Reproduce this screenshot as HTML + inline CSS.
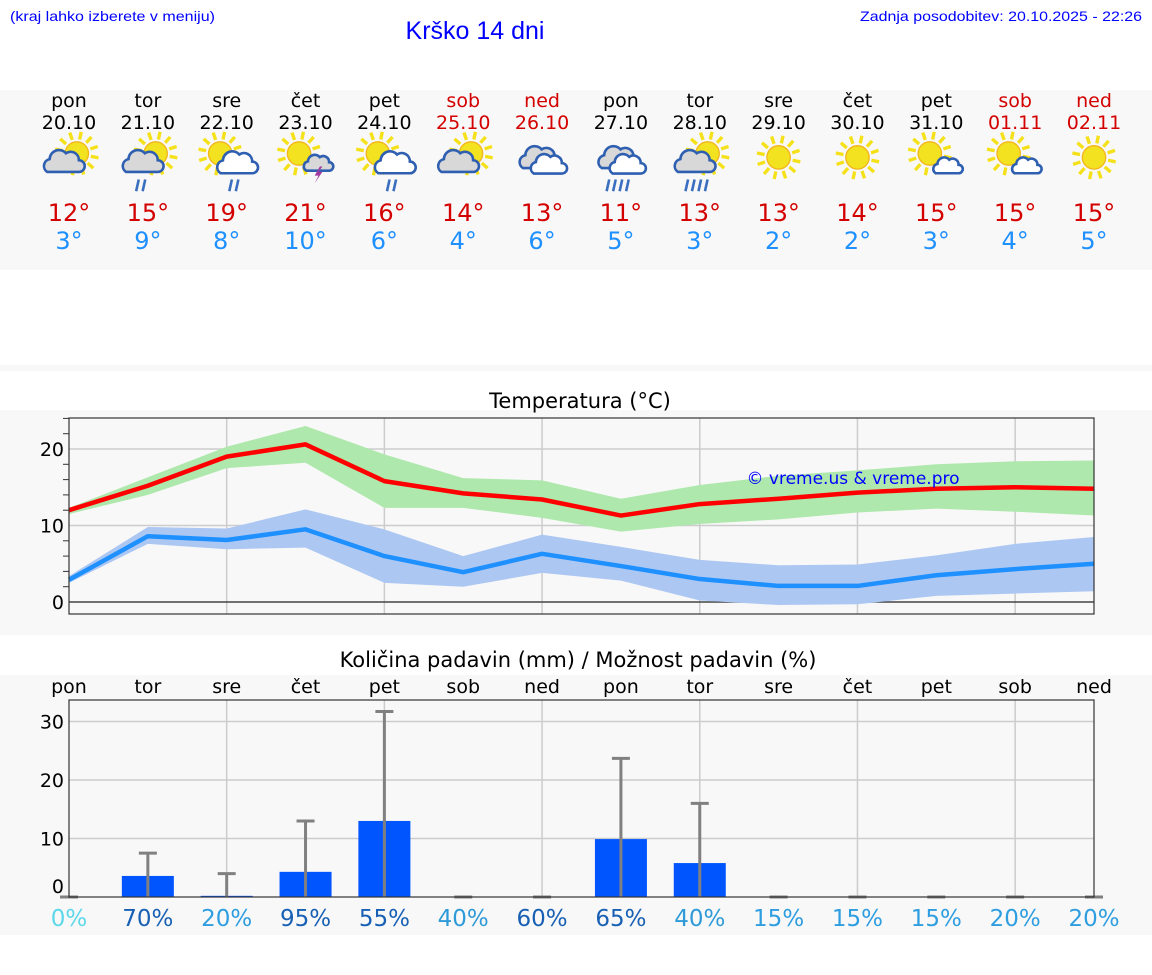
<!DOCTYPE html>
<html><head><meta charset="utf-8"><style>
body{margin:0;background:#fff;width:1152px;height:975px;overflow:hidden}
svg{display:block}
text{font-family:"DejaVu Sans","Liberation Sans",sans-serif}
</style></head><body>
<svg id="s" width="1152" height="975" xmlns="http://www.w3.org/2000/svg">
<rect x="0" y="90" width="1152" height="180" fill="#f8f8f8"/>
<rect x="0" y="365" width="1152" height="6" fill="#f8f8f8"/>
<rect x="0" y="410" width="1152" height="225" fill="#f8f8f8"/>
<rect x="0" y="675" width="1152" height="260" fill="#f8f8f8"/>
<text x="10" y="21" font-size="14" fill="#0000ff" style="font-family:'Liberation Sans',sans-serif" textLength="205" lengthAdjust="spacingAndGlyphs">(kraj lahko izberete v meniju)</text>
<text x="1142" y="21" font-size="14" fill="#0000ff" text-anchor="end" style="font-family:'Liberation Sans',sans-serif" textLength="282" lengthAdjust="spacingAndGlyphs">Zadnja posodobitev: 20.10.2025 - 22:26</text>
<text x="475" y="39" font-size="25" fill="#0000ff" text-anchor="middle" style="font-family:'Liberation Sans',sans-serif">Krško 14 dni</text>
<text x="580" y="408" font-size="21" fill="#000" text-anchor="middle">Temperatura (°C)</text>
<text x="578" y="667" font-size="21" fill="#000" text-anchor="middle">Količina padavin (mm) / Možnost padavin (%)</text>
<g id="topg"></g><g id="temp"></g><g id="prec"></g>
</svg>
<script>
const days=["pon","tor","sre","čet","pet","sob","ned","pon","tor","sre","čet","pet","sob","ned"];
const dates=["20.10","21.10","22.10","23.10","24.10","25.10","26.10","27.10","28.10","29.10","30.10","31.10","01.11","02.11"];
const maxT=[12,15,19,21,16,14,13,11,13,13,14,15,15,15];
const minT=[3,9,8,10,6,4,6,5,3,2,2,3,4,5];
const icons=["sc","scr","swr","sst","swr","sc","cc","ccr","scrr","s","s","sw","sw","s"];
const maxLine=[12,15.2,19,20.6,15.8,14.2,13.4,11.3,12.8,13.5,14.3,14.8,15,14.8];
const maxHi=[12.3,16.3,20.3,23,19.3,16.2,15.9,13.5,15.3,16.5,17.2,18,18.4,18.5];
const maxLo=[11.5,14,17.5,18.2,12.3,12.3,11,9.2,10.2,10.8,11.7,12.2,11.8,11.3];
const minLine=[2.9,8.6,8.1,9.5,6,3.9,6.3,4.7,3,2.1,2.1,3.5,4.3,5];
const minHi=[3.4,9.8,9.6,12.1,9.5,6,8.8,7.2,5.5,4.8,4.9,6.1,7.6,8.5];
const minLo=[2.5,7.6,6.9,7.1,2.5,2,3.8,2.8,0.2,-0.4,-0.3,0.8,1.1,1.4];
const tTicks=[0,10,20];
const precip=[0,3.6,0.2,4.3,13,0,0,9.9,5.8,0,0,0,0,0];
const precipMax=[0,7.5,4,13,31.7,0,0,23.7,16,0,0,0,0,0];
const chance=[0,70,20,95,55,40,60,65,40,15,15,15,20,20];
const pTicks=[0,10,20,30];
const NS="http://www.w3.org/2000/svg";
function mk(p,t,a){const e=document.createElementNS(NS,t);for(const k in a)e.setAttribute(k,a[k]);p.appendChild(e);return e;}
const X0=69,X1=1094;
const xd=i=>X0+i*(X1-X0)/13;
const yT=v=>602-v*7.65;
const yP=v=>897-v*5.85;
const topG=document.getElementById('topg'),tg=document.getElementById('temp'),pg=document.getElementById('prec');
function sun(g,cx,cy,r){const rays=mk(g,'g',{stroke:'#f5e11a','stroke-width':2.6});
 for(let k=0;k<12;k++){const a=k*Math.PI/6+0.2;mk(rays,'line',{x1:cx+Math.cos(a)*(r+2),y1:cy+Math.sin(a)*(r+2),x2:cx+Math.cos(a)*(r+8),y2:cy+Math.sin(a)*(r+8)});}
 mk(g,'circle',{cx:cx,cy:cy,r:r,fill:'#f3e21f',stroke:'#f2b51c','stroke-width':1});}
function cloud(g,cx,cy,s,fill){const p=`M${cx-13*s},${cy+8*s} a${6*s},${6*s} 0 0 1 ${2*s},${-11*s} a${8*s},${8*s} 0 0 1 ${14*s},${-5*s} a${7*s},${7*s} 0 0 1 ${11*s},${6*s} a${5*s},${5*s} 0 0 1 0,${10*s} z`;
 mk(g,'path',{d:p,fill:fill,stroke:'#2f5fb0','stroke-width':2});}
function rain(g,cx,cy,n){for(let k=0;k<n;k++)mk(g,'line',{x1:cx+k*5-n*2.5+2,y1:cy,x2:cx+k*5-n*2.5,y2:cy+9,stroke:'#3a6fc0','stroke-width':2});}
for(let i=0;i<14;i++){const x=xd(i);const red=(i==5||i==6||i==12||i==13);
 let e=mk(topG,'text',{x:x,y:107,'font-size':19,'text-anchor':'middle',fill:red?'#d40000':'#000'});e.textContent=days[i];
 
 
 e=mk(topG,'text',{x:x,y:129,'font-size':19,'text-anchor':'middle',fill:red?'#d40000':'#000'});e.textContent=dates[i];
 
 
 const cy=160;
 const g=mk(topG,'g',{transform:`translate(${x},${cy}) scale(1.3) translate(${-x},${-cy})`});
 
 
 const t=icons[i];
 if(t[0]=='s'){ if(t=='s')sun(g,x,cy-2,9); else sun(g,x+(t=='sc'||t.startsWith('scr')?6:-5),cy-5,9);}
 if(t=='sc'||t=='scr'||t=='scrr')cloud(g,x-5,cy+2,0.9,'#d8d8d8');
 if(t=='swr')cloud(g,x+7,cy+3,0.9,'#fff');
 if(t=='sw')cloud(g,x+8,cy+5,0.65,'#fff');
 if(t=='sst'){cloud(g,x+9,cy+3,0.65,'#d8d8d8');mk(g,'path',{d:`M${x+11},${cy+5} l-4,7 h3 l-3,6 l6,-9 h-3 l3,-4z`,fill:'#a03aa0'});}
 if(t=='cc'||t=='ccr'){cloud(g,x-3,cy-1,0.9,'#d8d8d8');cloud(g,x+4,cy+4,0.8,'#fff');}
 if(t=='scr'||t=='swr')rain(g,x+(t=='swr'?7:-4),cy+15,2);
 if(t=='ccr'||t=='scrr')rain(g,x-1,cy+15,4);
 e=mk(topG,'text',{x:x,y:221,'font-size':24,'text-anchor':'middle',fill:'#d40000'});e.textContent=maxT[i]+'°';
 
 
 e=mk(topG,'text',{x:x,y:249,'font-size':24,'text-anchor':'middle',fill:'#1e90ff'});e.textContent=minT[i]+'°';
 
 
}
for(let v=-1;v<=24;v++){if(v%10==0)continue;if(v%2)continue;mk(tg,'line',{x1:X0-6,x2:X0,y1:yT(v),y2:yT(v),stroke:'#333','stroke-width':1});}
for(let i=1;i<13;i++)if(i%2==0){const l=mk(tg,'line',{x1:xd(i),x2:xd(i),y1:418,y2:614,stroke:'#ccc','stroke-width':1.5});}
tTicks.forEach(v=>{const l=mk(tg,'line',{x1:X0,x2:X1,y1:yT(v),y2:yT(v),stroke:v==0?'#444':'#ccc','stroke-width':1.5});
 
 
 const t=mk(tg,'text',{x:X0-5,y:yT(v)+7,'font-size':19,'text-anchor':'end'});t.textContent=v;
 
 });
function band(hi,lo,c,name){let d='M'+hi.map((v,i)=>xd(i)+','+yT(v)).join('L')+'L'+lo.map((v,i)=>xd(i)+','+yT(v)).reverse().join('L')+'Z';
 const p=mk(tg,'path',{d:d,fill:c});}
function line(a,c,name){const p=mk(tg,'polyline',{points:a.map((v,i)=>xd(i)+','+yT(v)).join(' '),fill:'none',stroke:c,'stroke-width':4.5,'stroke-linejoin':'round'});}
band(maxHi,maxLo,'#aee8ac','max-temp-range');band(minHi,minLo,'#adc7f3','min-temp-range');
line(maxLine,'#ff0000','max-temp-line');line(minLine,'#1e90ff','min-temp-line');
let r=mk(tg,'rect',{x:X0,y:418,width:X1-X0,height:196,fill:'none',stroke:'#333','stroke-width':1.2});

let w=mk(tg,'text',{x:853,y:484,'font-size':17,'text-anchor':'middle',fill:'#0000ff'});w.textContent='© vreme.us & vreme.pro';

for(let i=1;i<13;i++)if(i%2==0){const l=mk(pg,'line',{x1:xd(i),x2:xd(i),y1:700,y2:897,stroke:'#ccc','stroke-width':1.5});}
pTicks.forEach(v=>{if(v>0){const l=mk(pg,'line',{x1:X0,x2:X1,y1:yP(v),y2:yP(v),stroke:'#ccc','stroke-width':1.5});}
 const t=mk(pg,'text',{x:X0-5,y:yP(v)+7-(v==0?11:0),'font-size':19,'text-anchor':'end'});t.textContent=v;
 });
const pc=p=>p==0?'#5dd8ea':p<=20?'#2f9ee0':p<=40?'#2f9ad8':'#1860b4';
for(let i=0;i<14;i++){const x=xd(i);
 let t=mk(pg,'text',{x:x,y:693,'font-size':19,'text-anchor':'middle'});t.textContent=days[i];
 
 if(precip[i]>0){const b=mk(pg,'rect',{x:x-26,y:yP(precip[i]),width:52,height:yP(0)-yP(precip[i]),fill:'#0055ff'});}
 const eg=mk(pg,'g',{stroke:'#808080','stroke-width':3});
 
 mk(eg,'line',{x1:x,x2:x,y1:yP(0),y2:yP(precipMax[i])});mk(eg,'line',{x1:x-9,x2:x+9,y1:yP(precipMax[i]),y2:yP(precipMax[i])});
 t=mk(pg,'text',{x:x,y:926,'font-size':23,'text-anchor':'middle',fill:pc(chance[i])});t.textContent=chance[i]+'%';
 }
r=mk(pg,'rect',{x:X0,y:700,width:X1-X0,height:197,fill:'none',stroke:'#333','stroke-width':1.2});

</script>
</body></html>
